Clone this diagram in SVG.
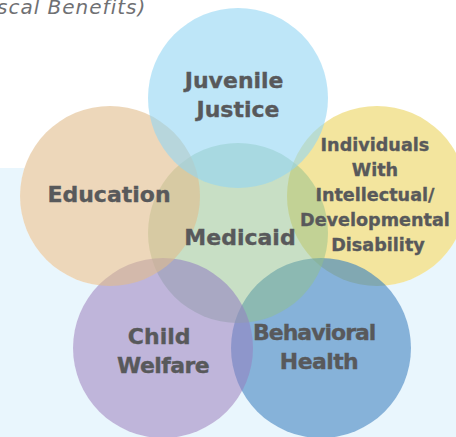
<svg xmlns="http://www.w3.org/2000/svg" width="456" height="437" viewBox="0 0 456 437">
  <style>
    .under { fill: #ffffff; }
    .ring { stroke: none; }
    .label { font-family: "DejaVu Sans", "Liberation Sans", sans-serif; font-weight: bold; fill: #58595B; stroke: #58595B; stroke-width: 0.35px; text-anchor: middle; font-size: 22px; }
    .small { font-size: 17.6px; }
    .caption { font-family: "DejaVu Sans", "Liberation Sans", sans-serif; font-style: italic; font-size: 20px; fill: #6F7073; letter-spacing: 1px; }
  </style>

  <!-- page background: white top, pale blue panel below -->
  <rect x="0" y="0" width="456" height="437" fill="#ffffff"/>
  <rect x="0" y="168" width="456" height="269" fill="#E9F6FD"/>

  <text class="caption" x="-3" y="14">scal Benefits)</text>

  <!-- white backing so the translucent circles blend against white, not the panel -->
  <g id="backing">
    <circle class="under" cx="238" cy="98" r="90"/>
    <circle class="under" cx="110" cy="196" r="90"/>
    <circle class="under" cx="377" cy="196" r="90"/>
    <circle class="under" cx="238" cy="233" r="90"/>
    <circle class="under" cx="163" cy="348" r="90"/>
    <circle class="under" cx="321" cy="348" r="90"/>
  </g>

  <!-- circles, bottom to top -->
  <g id="node-idd" class="node">
    <circle class="ring" cx="377" cy="196" r="90" fill="#EBD45D" fill-opacity="0.6"/>
  </g>
  <g id="node-behavioral-health" class="node">
    <circle class="ring" cx="321" cy="348" r="90" fill="#357FC0" fill-opacity="0.6"/>
  </g>
  <g id="node-medicaid" class="node">
    <circle class="ring" cx="238" cy="233" r="90" fill="#91BF8B" fill-opacity="0.5"/>
  </g>
  <g id="node-child-welfare" class="node">
    <circle class="ring" cx="163" cy="348" r="90" fill="#9484C1" fill-opacity="0.6"/>
  </g>
  <g id="node-education" class="node">
    <circle class="ring" cx="110" cy="196" r="90" fill="#E1BC8C" fill-opacity="0.6"/>
  </g>
  <g id="node-juvenile-justice" class="node">
    <circle class="ring" cx="238" cy="98" r="90" fill="#93D5F3" fill-opacity="0.6"/>
  </g>

  <!-- labels sit above every circle -->
  <g id="labels">
    <text id="label-juvenile-justice" class="label">
      <tspan x="238" y="88">Juvenile</tspan>
      <tspan x="238" y="117">Justice</tspan>
    </text>
    <text id="label-education" class="label" x="109" y="202">Education</text>
    <text id="label-medicaid" class="label" x="240" y="245">Medicaid</text>
    <text id="label-idd" class="label small">
      <tspan x="378" y="151">Individuals</tspan>
      <tspan x="378" y="176">With</tspan>
      <tspan x="378" y="201">Intellectual/</tspan>
      <tspan x="378" y="226">Developmental</tspan>
      <tspan x="378" y="251">Disability</tspan>
    </text>
    <text id="label-child-welfare" class="label">
      <tspan x="163" y="344">Child</tspan>
      <tspan x="163" y="373" letter-spacing="-0.6">Welfare</tspan>
    </text>
    <text id="label-behavioral-health" class="label">
      <tspan x="318" y="340" letter-spacing="-1">Behavioral</tspan>
      <tspan x="319" y="369" letter-spacing="-0.6">Health</tspan>
    </text>
  </g>
</svg>
